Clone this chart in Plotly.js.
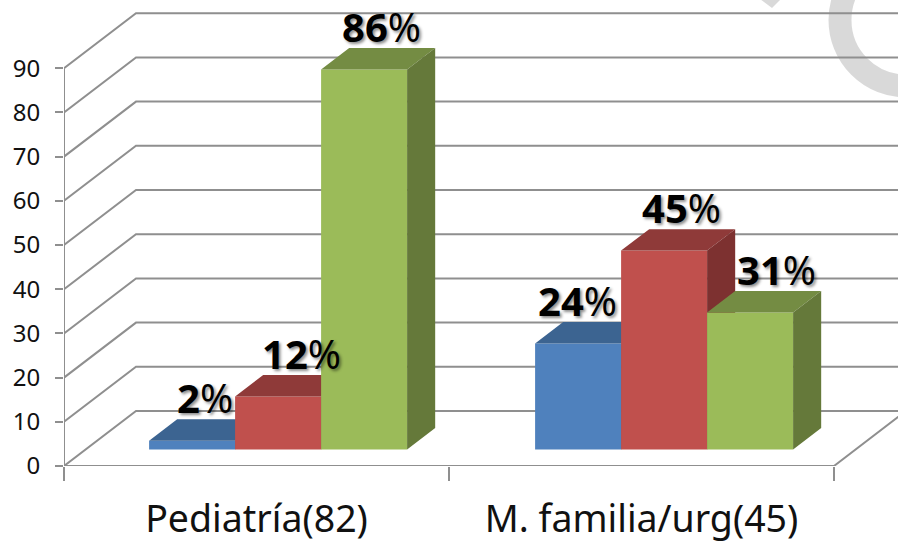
<!DOCTYPE html>
<html><head><meta charset="utf-8">
<script src="https://cdn.plot.ly/plotly-3.0.1.min.js"></script>
<style>html,body{margin:0;padding:0;background:#fff}</style></head>
<body><div id="c" style="width:898px;height:544px"></div>
<script>
var categories = ['Pediatría(82)', 'M. familia/urg(45)'];
var blueValues = [2, 24];
var redValues = [12, 45];
var greenValues = [86, 31];
var valueTicks = [0, 10, 20, 30, 40, 50, 60, 70, 80, 90];
var labelShift = [[13, 23, 17], [-1, 17, 26]];

var W = 898, H = 544, L = 64, B = 78, pxX = 385, pxY = 4.42;
var plotW = W - L, plotH = H - B;
var xMax = plotW / pxX, yMax = plotH / pxY;
var wallDX = 72 / pxX, wallDY = 55 / pxY;
var barW = 86 / pxX, gap = (1 - 3 * barW) / 2, groupPitch = 386 / pxX;
var startD = 0.3, depthD = 0.39;
var gridColor = '#8f8f8f';

var series = [
  {vals: blueValues, front: '#4f81bd', top: '#3c6491', side: '#345880', xa: 'x', ya: 'y'},
  {vals: redValues, front: '#c0504d', top: '#8f3a39', side: '#7d3130', xa: 'x2', ya: 'y2'},
  {vals: greenValues, front: '#9bbb59', top: '#748c43', side: '#65793a', xa: 'x3', ya: 'y3'}
];

var traces = [], annotations = [];
series.forEach(function (s, si) {
  var xs = categories.map(function (c, g) { return g * groupPitch + gap + barW * si; });
  var base = startD * wallDY, sx = startD * wallDX;
  traces.push({type: 'bar', x: xs.map(function (x) { return x + sx + barW / 2; }), y: s.vals,
    base: base, width: barW, marker: {color: s.front, line: {width: 0}},
    xaxis: s.xa, yaxis: s.ya, hoverinfo: 'skip', showlegend: false});
  var dx = depthD * wallDX, dy = depthD * wallDY;
  var tx = [], ty = [], sxs = [], sys = [];
  s.vals.forEach(function (v, g) {
    var x0 = xs[g] + sx, x1 = x0 + barW, yb = base, yt = base + v;
    tx.push(x0, x1, x1 + dx, x0 + dx, x0, null);
    ty.push(yt, yt, yt + dy, yt + dy, yt, null);
    sxs.push(x1, x1 + dx, x1 + dx, x1, x1, null);
    sys.push(yb, yb + dy, yt + dy, yt, yb, null);
    annotations.push({x: x0 + barW / 2, y: yt + dy, xref: 'x', yref: 'y', showarrow: false,
      xanchor: 'center', yanchor: 'bottom', xshift: labelShift[g][si], yshift: -8,
      text: '<b>' + v + '</b>%',
      font: {family: 'Noto Sans, sans-serif', size: 40, color: '#000', shadow: '2px 2px 3px rgba(0,0,0,0.45)'}});
  });
  [[tx, ty, s.top], [sxs, sys, s.side]].forEach(function (f) {
    traces.push({type: 'scatter', mode: 'lines', x: f[0], y: f[1], fill: 'toself', fillcolor: f[2],
      line: {width: 0}, xaxis: s.xa, yaxis: s.ya, hoverinfo: 'skip', showlegend: false});
  });
});

var shapes = [];
var line = {color: gridColor, width: 2};
valueTicks.forEach(function (v) {
  shapes.push({type: 'path', layer: 'below', xref: 'x', yref: 'y', line: line,
    path: 'M0,' + v + ' L' + wallDX + ',' + (v + wallDY) + ' L' + (xMax + 1) + ',' + (v + wallDY)});
});
shapes.push({type: 'line', layer: 'below', xref: 'x', yref: 'y', x0: 0, x1: 0, y0: 0, y1: valueTicks[valueTicks.length - 1], line: line});
shapes.push({type: 'path', layer: 'below', xref: 'x', yref: 'y', line: line,
  path: 'M0,0 L2,0 L' + (2 + wallDX) + ',' + wallDY});
// pale ring and wedge behind the plot, top right
function px(x) { return (x - L) / plotW; }
function py(y) { return (plotH - y) / plotH; }
shapes.push({type: 'circle', layer: 'below', xref: 'paper', yref: 'paper',
  x0: px(906 - 66), x1: px(906 + 66), y0: py(20 + 66), y1: py(20 - 66),
  fillcolor: 'rgba(0,0,0,0)', line: {color: 'rgba(0,0,0,0.15)', width: 23}});
shapes.push({type: 'path', layer: 'below', xref: 'paper', yref: 'paper', fillcolor: '#d9d9d9', line: {width: 0},
  path: 'M' + px(760) + ',' + py(-1) + ' L' + px(772) + ',' + py(8) + ' L' + px(781) + ',' + py(-1) + ' Z'});

var hiddenAxis = {visible: false, fixedrange: true};
var layout = {
  width: W, height: H, margin: {l: L, r: 0, t: 0, b: B}, showlegend: false,
  paper_bgcolor: '#fff', plot_bgcolor: 'rgba(0,0,0,0)', barmode: 'overlay',
  xaxis: {range: [0, xMax], tickvals: [0, 1, 2], ticktext: ['', '', ''], ticks: 'outside', ticklen: 14,
    tickcolor: gridColor, tickwidth: 2, showgrid: false, zeroline: false, showline: false},
  yaxis: {range: [0, yMax], tickvals: valueTicks, ticks: 'outside', ticklen: 8, tickcolor: gridColor, tickwidth: 2,
    showgrid: false, zeroline: false, showline: false, ticklabelstandoff: 10,
    tickfont: {family: 'Noto Sans, sans-serif', size: 24, color: '#111'}},
  xaxis2: {overlaying: 'x', side: 'bottom', range: [0, xMax], tickvals: [0.5, 1.5], ticktext: categories, ticks: '',
    ticklabelstandoff: 27, showgrid: false, zeroline: false, showline: false,
    tickfont: {family: 'Noto Sans, sans-serif', size: 37.5, color: '#111'}},
  yaxis2: Object.assign({overlaying: 'y', range: [0, yMax]}, hiddenAxis),
  xaxis3: Object.assign({overlaying: 'x', range: [0, xMax]}, hiddenAxis),
  yaxis3: Object.assign({overlaying: 'y', range: [0, yMax]}, hiddenAxis),
  shapes: shapes, annotations: annotations
};
Plotly.newPlot('c', traces, layout, {displayModeBar: false, staticPlot: true});
</script></body></html>
